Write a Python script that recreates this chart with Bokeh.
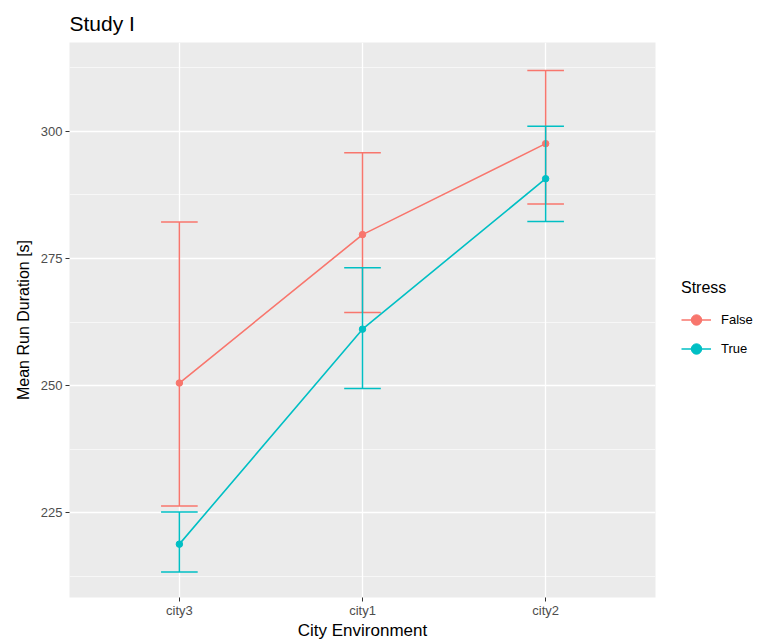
from bokeh.plotting import figure
from bokeh.models import (ColumnDataSource, FixedTicker, Legend, LegendItem, Title, Range1d)
from bokeh.embed import file_html
from bokeh.resources import INLINE

cities = ["city3", "city1", "city2"]
false_mean = [250.5, 279.7, 297.6]
false_upper = [282.2, 295.8, 312.0]
false_lower = [226.3, 264.4, 285.7]
true_mean = [218.8, 261.1, 290.7]
true_upper = [225.1, 273.2, 301.0]
true_lower = [213.3, 249.4, 282.3]
y_ticks = [225, 250, 275, 300]
minor_ticks = [212.5, 237.5, 262.5, 287.5, 312.5]

C_FALSE = "#F8766D"
C_TRUE = "#00BFC4"
FONT = "Liberation Sans"

xs = [i + 1 for i in range(len(cities))]

p = figure(frame_width=586, frame_height=555, output_backend="svg", toolbar_location=None,
           x_range=Range1d(0.4, 3.6), y_range=Range1d(208.3, 317.5),
           min_border_left=69, min_border_right=105, min_border_top=42, min_border_bottom=44,
           background_fill_color="#EBEBEB", border_fill_color="white")
p.outline_line_color = None

# grid
p.xgrid.ticker = FixedTicker(ticks=xs)
p.ygrid.ticker = FixedTicker(ticks=y_ticks, minor_ticks=minor_ticks)
for g in (p.xgrid, p.ygrid):
    g.grid_line_color = "white"
    g.grid_line_width = 1.3
p.ygrid.minor_grid_line_color = "white"
p.ygrid.minor_grid_line_width = 0.6

# axes
p.xaxis.ticker = FixedTicker(ticks=xs)
p.xaxis.major_label_overrides = {x: c for x, c in zip(xs, cities)}
p.yaxis.ticker = FixedTicker(ticks=y_ticks)
for ax in (p.xaxis, p.yaxis):
    ax.axis_line_color = None
    ax.minor_tick_line_color = None
    ax.major_tick_line_color = "#333333"
    ax.major_tick_out = 4
    ax.major_tick_in = 0
    ax.major_label_text_font = FONT
    ax.major_label_text_font_size = "13px"
    ax.major_label_text_color = "#4D4D4D"
    ax.axis_label_text_font = FONT
    ax.axis_label_text_font_style = "normal"
    ax.axis_label_text_color = "black"
    ax.major_label_standoff = 3
p.xaxis.major_label_standoff = 1
p.xaxis.axis_label_text_font_size = "17px"
p.yaxis.axis_label_text_font_size = "16px"
p.xaxis.axis_label = "City Environment"
p.yaxis.axis_label = "Mean Run Duration [s]"
p.xaxis.axis_label_standoff = 0
p.yaxis.axis_label_standoff = 6

t = Title(text="Study I", text_font=FONT, text_font_size="21px", text_font_style="normal",
          text_color="black", align="left", offset=0, standoff=16)
p.add_layout(t, "above")

items = []
for name, color, mean, up, lo in [("False", C_FALSE, false_mean, false_upper, false_lower),
                                  ("True", C_TRUE, true_mean, true_upper, true_lower)]:
    src = ColumnDataSource(dict(x=xs, mean=mean, up=up, lo=lo,
                                xl=[x - 0.1 for x in xs], xr=[x + 0.1 for x in xs]))
    p.segment(x0="x", y0="lo", x1="x", y1="up", source=src, line_color=color, line_width=1.5)
    p.segment(x0="xl", y0="up", x1="xr", y1="up", source=src, line_color=color, line_width=1.5)
    p.segment(x0="xl", y0="lo", x1="xr", y1="lo", source=src, line_color=color, line_width=1.5)
    ln = p.line(x="x", y="mean", source=src, line_color=color, line_width=1.6)
    sc = p.scatter(x="x", y="mean", source=src, size=6.5, fill_color=color, line_color=color)
    items.append(LegendItem(label=name, renderers=[ln, sc]))

legend = Legend(items=items, location="center_left", title="Stress",
                title_text_font=FONT, title_text_font_size="16px", title_text_font_style="normal",
                title_text_color="black", title_standoff=10,
                label_text_font=FONT, label_text_font_size="13px", label_text_color="black",
                background_fill_alpha=0, border_line_color=None,
                glyph_width=30, glyph_height=26, label_height=26, spacing=3,
                padding=0, margin=26, label_standoff=10)
p.add_layout(legend, "right")

open("out.html", "w").write(file_html(p, INLINE))
